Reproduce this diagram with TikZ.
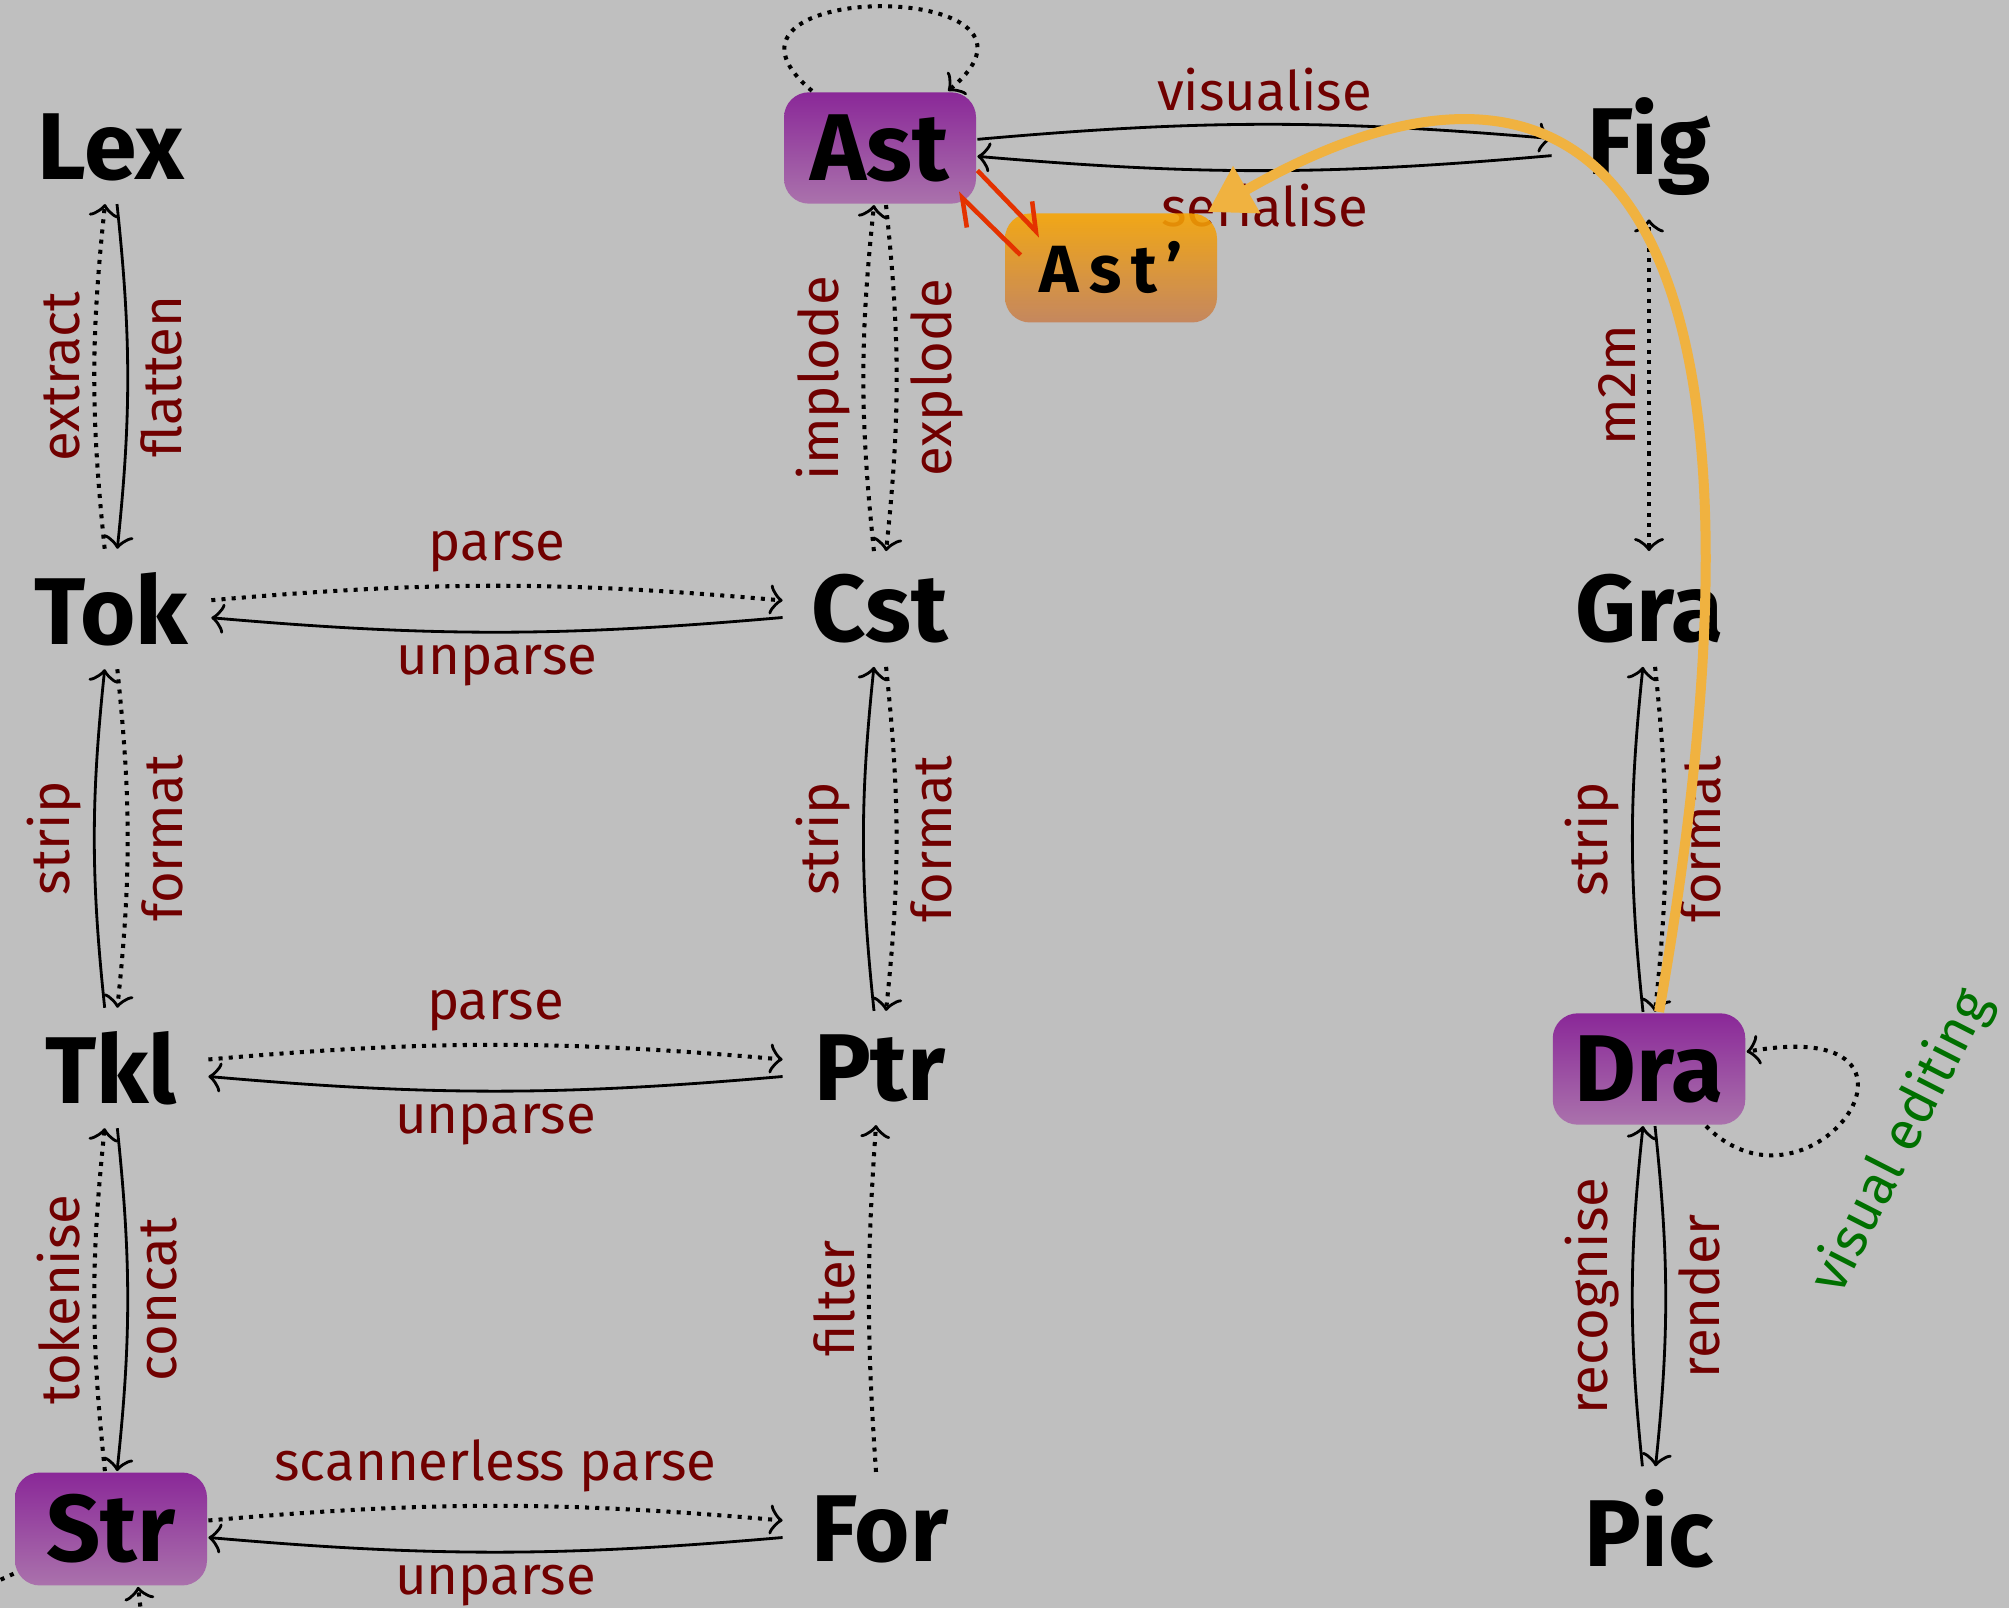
\documentclass[tikz,border=0pt]{standalone}
\usepackage{fontspec}
\setmainfont{Fira Sans}
\usepackage{xcolor}
\usepackage{tikz}
\usetikzlibrary{arrows.meta}

\definecolor{backgray}{RGB}{191,191,191}
\definecolor{labelred}{RGB}{112,0,0}
\definecolor{labelgreen}{RGB}{0,112,0}
\definecolor{purpletop}{RGB}{138,40,152}
\definecolor{purplebot}{RGB}{170,114,172}
\definecolor{orangetop}{RGB}{248,164,0}
\definecolor{orangebot}{RGB}{198,128,82}
\definecolor{editcol}{RGB}{240,178,64}
\definecolor{syncred}{RGB}{228,50,0}

\tikzset{
  lang/.style={font=\fontsize{27}{30}\selectfont\bfseries, inner sep=0.22cm,
    minimum width=1.92cm, minimum height=1.08cm, rounded corners=0.25cm},
  model/.style={lang, top color=purpletop, bottom color=purplebot},
  copymodel/.style={lang, font=\fontsize{19}{22}\selectfont\bfseries\addfontfeature{LetterSpace=15},
    minimum width=2.12cm, minimum height=1.09cm,
    top color=orangetop, bottom color=orangebot, fill opacity=0.88, text opacity=1},
  lbl/.style={text=labelred, font=\fontsize{15.5}{18}\selectfont},
  lft/.style={lbl, midway, rotate=90, anchor=south},
  rgt/.style={lbl, midway, rotate=90, anchor=north},
  abv/.style={lbl, midway, anchor=south},
  blw/.style={lbl, midway, anchor=north},
  gen/.style={line width=1.15pt, dash pattern=on 1.15pt off 1.75pt},
  sync/.style={draw=syncred, line width=1.3pt, -{Straight Barb[left, length=0.24cm, width=0.36cm]}},
  edit/.style={draw=editcol, line width=0.1cm, -{Triangle[length=0.45cm, width=0.52cm]}}
}

\begin{document}
\begin{tikzpicture}[line width=0.8pt, >={Classical TikZ Rightarrow[length=1.3mm,width=3mm,line width=0.8pt]}]
    \path[fill=backgray, use as bounding box] (0,0) rectangle (20.09,16.08);
    \clip (0,0) rectangle (20.09,16.08);

    \node[lang] (Lex) at (1.11,14.61) {Lex};
    \node[model] (Ast) at (8.80,14.60) {Ast};
    \node[lang] (Fig) at (16.49,14.61) {Fig};
    \node[lang] (Tok) at (1.11,9.99) {Tok};
    \node[lang] (Cst) at (8.80,9.99) {Cst};
    \node[lang] (Gra) at (16.49,9.99) {Gra};
    \node[lang] (Tkl) at (1.11,5.40) {Tkl};
    \node[lang] (Ptr) at (8.80,5.40) {Ptr};
    \node[model] (Dra) at (16.49,5.39) {Dra};
    \node[model] (Str) at (1.11,0.79) {Str};
    \node[lang] (For) at (8.80,0.79) {For};
    \node[lang] (Pic) at (16.49,0.79) {Pic};
    \coordinate (outW) at (-3.0,-1.1);
    \coordinate (outS) at (1.55,-1.2);

    \path [->] (Tok) edge[gen, bend left=6] node[lft] {extract} (Lex);
    \path [->] (Lex) edge[bend left=6] node[rgt] {flatten} (Tok);
    \path [->] (Cst) edge[gen, bend left=6] node[lft] {implode} (Ast);
    \path [->] (Ast) edge[gen, bend left=6] node[rgt] {explode} (Cst);
    \path [<->] (Gra) edge[gen] node[lft] {m2m} (Fig);
    \path [->] (Ast) edge[bend left=5] node[abv] {visualise} (Fig);
    \path [->] (Fig) edge[bend left=5] node[blw] {serialise} (Ast);
    \path [->] (Ast) edge[gen, out=140, in=40, distance=1.75cm] (Ast);

    \path [->] (Tok) edge[gen, bend left=5] node[abv] {parse} (Cst);
    \path [->] (Cst) edge[bend left=5] node[blw] {unparse} (Tok);
    \path [->] (Tkl) edge[bend left=6] node[lft] {strip} (Tok);
    \path [->] (Tok) edge[gen, bend left=6] node[rgt] {format} (Tkl);
    \path [->] (Ptr) edge[bend left=6] node[lft] {strip} (Cst);
    \path [->] (Cst) edge[gen, bend left=6] node[rgt] {format} (Ptr);
    \path [->] (Dra) edge[bend left=6] node[lft] {strip} (Gra);
    \path [->] (Gra) edge[gen, bend left=6] node[rgt] {format} (Dra);

    \path [->] (Tkl) edge[gen, bend left=5] node[abv] {parse} (Ptr);
    \path [->] (Ptr) edge[bend left=5] node[blw] {unparse} (Tkl);
    \path [->] (Str) edge[gen, bend left=6] node[lft] {tokenise} (Tkl);
    \path [->] (Tkl) edge[bend left=6] node[rgt] {concat} (Str);
    \path [->] (For) edge[gen, bend left=4] node[lft] {filter} (Ptr);
    \path [->] (Str) edge[gen, bend left=5] node[abv] {scannerless parse} (For);
    \path [->] (For) edge[bend left=5] node[blw] {unparse} (Str);
    \path [->] (Pic) edge[bend left=6] node[lft] {recognise} (Dra);
    \path [->] (Dra) edge[bend left=6] node[rgt] {render} (Pic);
    \path [->] (Dra) edge[gen, out=-45, in=10, out distance=1.5cm, in distance=2.2cm]
      node[pos=0.5, text=labelgreen, font=\fontsize{15.5}{18}\selectfont, rotate=63,
        anchor=north, inner sep=0.32cm] {visual editing} (Dra);

    \path [->] (Str) edge[gen] (outW);
    \path [->] (outS) edge[gen] (Str.-65);

    \node[copymodel] (AstC) at (11.11,13.40) {Ast'};
    \draw[sync] (Ast.-13) -- ([shift={(0.37,-0.24)}]AstC.north west);
    \draw[sync] ([shift={(0.17,-0.43)}]AstC.north west) -- ([shift={(-0.20,0.12)}]Ast.south east);

    \path (Dra) edge[edit, out=80, in=30, out distance=9cm, in distance=4cm] (AstC);
\end{tikzpicture}
\end{document}
